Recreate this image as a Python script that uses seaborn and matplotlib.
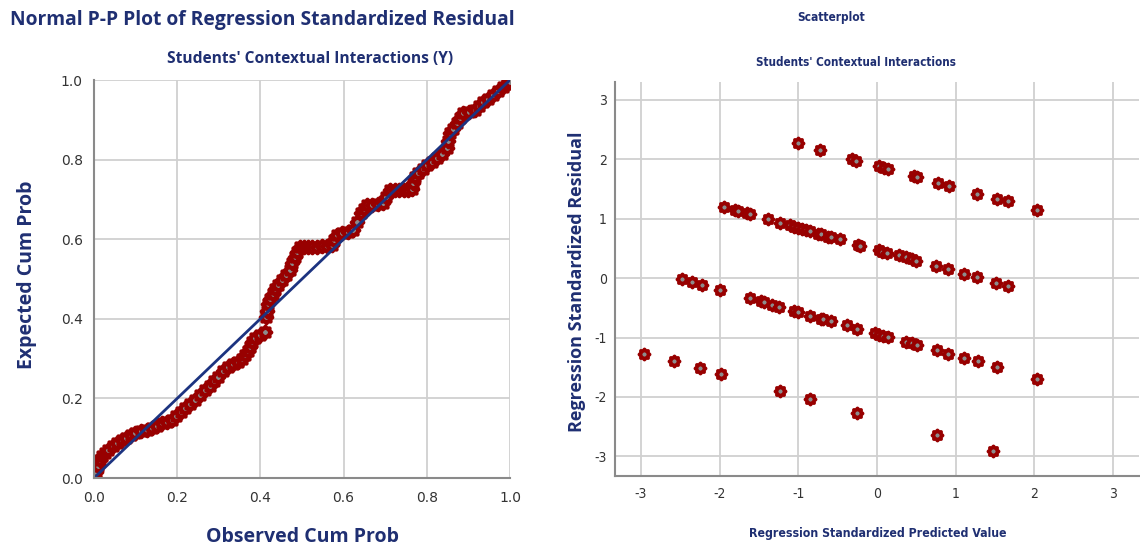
import numpy as np
import pandas as pd
import seaborn as sns
import matplotlib
matplotlib.use("Agg")
import matplotlib.pyplot as plt
from matplotlib.path import Path
from matplotlib import font_manager as fm

# ---------------- data ----------------
pp_observed = [0.000, 0.005, 0.010, 0.014, 0.020, 0.027, 0.034, 0.045, 0.056, 0.067,
               0.078, 0.088, 0.099, 0.113, 0.127, 0.140, 0.152, 0.163, 0.175, 0.187,
               0.197, 0.208, 0.219, 0.231, 0.243, 0.255, 0.267, 0.278, 0.289, 0.299,
               0.311, 0.323, 0.335, 0.347, 0.356, 0.363, 0.369, 0.375, 0.381, 0.387,
               0.398, 0.411, 0.413, 0.416, 0.419, 0.423, 0.430, 0.436, 0.443, 0.452,
               0.462, 0.471, 0.477, 0.483, 0.489, 0.495, 0.505, 0.515, 0.525, 0.535,
               0.547, 0.559, 0.571, 0.577, 0.583, 0.596, 0.610, 0.623, 0.633, 0.643,
               0.650, 0.656, 0.669, 0.682, 0.695, 0.703, 0.712, 0.723, 0.734, 0.744,
               0.755, 0.764, 0.768, 0.772, 0.780, 0.790, 0.800, 0.812, 0.824, 0.836,
               0.848, 0.852, 0.856, 0.864, 0.872, 0.880, 0.888, 0.902, 0.916, 0.926,
               0.936, 0.948, 0.960, 0.972, 0.984, 0.992, 1.000]
pp_expected = [0.003, 0.015, 0.030, 0.045, 0.055, 0.063, 0.070, 0.080, 0.088, 0.095,
               0.101, 0.107, 0.113, 0.117, 0.120, 0.126, 0.131, 0.137, 0.141, 0.146,
               0.155, 0.165, 0.175, 0.185, 0.196, 0.208, 0.221, 0.232, 0.244, 0.255,
               0.268, 0.280, 0.286, 0.292, 0.300, 0.309, 0.319, 0.330, 0.341, 0.351,
               0.360, 0.366, 0.405, 0.420, 0.436, 0.451, 0.463, 0.474, 0.485, 0.497,
               0.510, 0.523, 0.540, 0.556, 0.569, 0.581, 0.581, 0.581, 0.581, 0.581,
               0.582, 0.583, 0.585, 0.598, 0.611, 0.615, 0.619, 0.623, 0.644, 0.665,
               0.676, 0.686, 0.687, 0.689, 0.690, 0.707, 0.724, 0.724, 0.724, 0.724,
               0.724, 0.726, 0.740, 0.757, 0.766, 0.776, 0.786, 0.795, 0.803, 0.815,
               0.828, 0.847, 0.866, 0.878, 0.891, 0.904, 0.916, 0.920, 0.925, 0.935,
               0.945, 0.953, 0.962, 0.972, 0.983, 0.990, 0.996]
diag_x = [0.0, 1.0]
diag_y = [0.0, 1.0]

pred_values = [-1.00, -0.72, -0.32, -0.27, 0.03, 0.09, 0.14, 0.47, 0.51, 0.77, 0.91, 1.27, 1.53, 1.66, 2.03,
               -1.95, -1.81, -1.77, -1.65, -1.61, -1.38, -1.23, -1.11, -1.06, -1.00, -0.95, -0.90, -0.85,
               -0.75, -0.71, -0.62, -0.58, -0.47, -0.24, -0.22, 0.03, 0.06, 0.13, 0.28, 0.37, 0.44, 0.49,
               0.75, 0.90, 1.10, 1.27, 1.51, 1.66,
               -2.48, -2.35, -2.22, -1.99, -1.61, -1.47, -1.44, -1.34, -1.24, -1.05, -1.00, -0.85, -0.71,
               -0.69, -0.58, -0.38, -0.25, -0.03, 0.03, 0.07, 0.14, 0.37, 0.44, 0.51, 0.76, 0.90, 1.10,
               1.28, 1.52, 2.03,
               -2.96, -2.58, -2.25, -1.98, -1.23, -0.85, -0.25, 0.76, 1.48]
resid_values = [2.27, 2.15, 2.00, 1.97, 1.88, 1.85, 1.83, 1.71, 1.70, 1.60, 1.55, 1.41, 1.33, 1.29, 1.14,
                1.19, 1.14, 1.13, 1.09, 1.08, 0.99, 0.93, 0.89, 0.86, 0.84, 0.82, 0.81, 0.79,
                0.75, 0.74, 0.69, 0.69, 0.65, 0.56, 0.54, 0.47, 0.44, 0.42, 0.39, 0.35, 0.32, 0.29,
                0.20, 0.15, 0.07, 0.02, -0.08, -0.13,
                -0.02, -0.07, -0.12, -0.20, -0.34, -0.39, -0.40, -0.45, -0.49, -0.55, -0.57, -0.64, -0.68,
                -0.69, -0.72, -0.79, -0.85, -0.93, -0.96, -0.97, -0.99, -1.07, -1.10, -1.13, -1.21, -1.27, -1.35,
                -1.40, -1.50, -1.69,
                -1.27, -1.40, -1.52, -1.62, -1.90, -2.04, -2.27, -2.64, -2.91]

pp_ticks = [0.0, 0.2, 0.4, 0.6, 0.8, 1.0]
pp_ticklabels = ["0.0", "0.2", "0.4", "0.6", "0.8", "1.0"]
sc_ticks = [-3, -2, -1, 0, 1, 2, 3]
sc_ticklabels = ["-3", "-2", "-1", "0", "1", "2", "3"]

# ---------------- style ----------------
sns.set_theme(style="white")


def has_font(name):
    try:
        fm.findfont(fm.FontProperties(family=name), fallback_to_default=False)
        return True
    except Exception:
        return False


MAIN = "Open Sans" if has_font("Open Sans") else "DejaVu Sans"


def find_condensed(bold):
    best = None
    for f in fm.fontManager.ttflist:
        nm = f.name.lower()
        fn = f.fname.lower()
        cond = ("narrow" in nm or "condensed" in nm or "narrow" in fn or "condensed" in fn
                or str(f.stretch) in ("condensed", "semi-condensed", "extra-condensed"))
        if not cond or "italic" in fn or "oblique" in fn or str(f.style) != "normal":
            continue
        w = f.weight if isinstance(f.weight, int) else (700 if "bold" in str(f.weight) else 400)
        score = -abs(w - (700 if bold else 400))
        if "liberation" in nm:
            score += 50
        if best is None or score > best[0]:
            best = (score, f.fname, f.name)
    return best


cb = find_condensed(True)
cr = find_condensed(False)
if cb is not None:
    NB = dict(fontproperties=fm.FontProperties(fname=cb[1]))
else:
    NB = dict(family="DejaVu Sans", fontweight="bold")
if cr is not None:
    NR_FP = fm.FontProperties(fname=cr[1])
else:
    NR_FP = fm.FontProperties(family="DejaVu Sans")
plt.rcParams["font.family"] = ["DejaVu Sans"]

NAVY = "#1f2f72"
LINE = "#1c3380"
RED = "#980000"
GRAY_C = "#8c8c8c"
GRID = "#d0d0d0"
SPINE = "#8a8a8a"
TICKC = "#333333"

ang = np.arange(16) * np.pi / 8
rad = np.where(np.arange(16) % 2 == 0, 1.0, 0.72)
verts = np.column_stack([rad * np.sin(ang), rad * np.cos(ang)])
verts = np.vstack([verts, verts[:1]])
codes = [Path.MOVETO] + [Path.LINETO] * 15 + [Path.CLOSEPOLY]
STAR = Path(verts, codes)

fig = plt.figure(figsize=(11.4, 5.45), dpi=100)
W, H = 1140, 545
ax1 = fig.add_axes([94 / W, 1 - 478 / H, (510 - 94) / W, (478 - 80) / H])
ax2 = fig.add_axes([615 / W, 1 - 476 / H, (1139 - 615) / W, (476 - 82) / H])

# ---------------- P-P plot ----------------
pp_df = pd.DataFrame({"observed": pp_observed, "expected": pp_expected})
sns.scatterplot(data=pp_df, x="observed", y="expected", ax=ax1, marker=STAR, s=72,
                color=GRAY_C, edgecolor=RED, linewidth=2.9, zorder=3, legend=False)
diag_df = pd.DataFrame({"x": diag_x, "y": diag_y})
sns.lineplot(data=diag_df, x="x", y="y", ax=ax1, color=LINE, linewidth=2.0, zorder=4)

ax1.set_xlim(0, 1)
ax1.set_ylim(0, 1)
ax1.set_xticks(pp_ticks)
ax1.set_yticks(pp_ticks)
ax1.set_xticklabels(pp_ticklabels)
ax1.set_yticklabels(pp_ticklabels)
ax1.tick_params(axis="both", length=0, labelsize=10, colors=TICKC)
ax1.tick_params(axis="x", pad=9)
ax1.tick_params(axis="y", pad=8)
ax1.grid(True, color=GRID, linewidth=1.3)
ax1.set_axisbelow(True)
for sp in ["top", "right"]:
    ax1.spines[sp].set_visible(False)
for sp in ["left", "bottom"]:
    ax1.spines[sp].set_color(SPINE)
    ax1.spines[sp].set_linewidth(1.5)
    ax1.spines[sp].set_zorder(5)
ax1.set_xlabel("Observed Cum Prob", fontsize=14, fontweight="bold", color=NAVY, family=MAIN)
ax1.set_ylabel("Expected Cum Prob", fontsize=14, fontweight="bold", color=NAVY, family=MAIN)
ax1.xaxis.set_label_coords(0.5, -0.122)
ax1.yaxis.set_label_coords(-0.138, 0.51)

fig.text(10 / W, 1 - 20 / H, "Normal P-P Plot of Regression Standardized Residual",
         ha="left", va="center", fontsize=13.9, fontweight="bold", color=NAVY, family=MAIN)
fig.text(310 / W, 1 - 59 / H, "Students' Contextual Interactions (Y)",
         ha="center", va="center", fontsize=11.2, fontweight="bold", color=NAVY, family=MAIN)

# ---------------- Scatterplot ----------------
sc_df = pd.DataFrame({"pred": pred_values, "resid": resid_values})
sns.scatterplot(data=sc_df, x="pred", y="resid", ax=ax2, marker=STAR, s=55,
                color=GRAY_C, edgecolor=RED, linewidth=2.6, zorder=3, legend=False)
ax2.set_xlim(-3.33, 3.33)
ax2.set_ylim(-3.33, 3.3)
ax2.set_xticks(sc_ticks)
ax2.set_yticks(sc_ticks)
ax2.set_xticklabels(sc_ticklabels)
ax2.set_yticklabels(sc_ticklabels)
ax2.tick_params(axis="both", length=0, labelsize=10, colors=TICKC)
for lab in ax2.get_xticklabels() + ax2.get_yticklabels():
    lab.set_fontproperties(NR_FP)
    lab.set_fontsize(10)
ax2.tick_params(axis="x", pad=8)
ax2.tick_params(axis="y", pad=6)
ax2.grid(True, color=GRID, linewidth=1.3)
ax2.set_axisbelow(True)
for sp in ["top", "right"]:
    ax2.spines[sp].set_visible(False)
for sp in ["left", "bottom"]:
    ax2.spines[sp].set_color(SPINE)
    ax2.spines[sp].set_linewidth(1.5)
xl = ax2.set_xlabel("Regression Standardized Predicted Value", color=NAVY, **NB)
xl.set_fontsize(8.8)
ax2.set_ylabel("Regression Standardized Residual", fontsize=13, fontweight="bold",
               color=NAVY, family=MAIN)
ax2.xaxis.set_label_coords(0.501, -0.13)
ax2.yaxis.set_label_coords(-0.055, 0.492)

t1 = fig.text(831 / W, 1 - 18 / H, "Scatterplot", ha="center", va="center",
              color=NAVY, **NB)
t1.set_fontsize(8.6)
t2 = fig.text(856 / W, 1 - 62 / H, "Students' Contextual Interactions", ha="center", va="center",
              color=NAVY, **NB)
t2.set_fontsize(8.4)

fig.savefig("out.png", dpi=100)
